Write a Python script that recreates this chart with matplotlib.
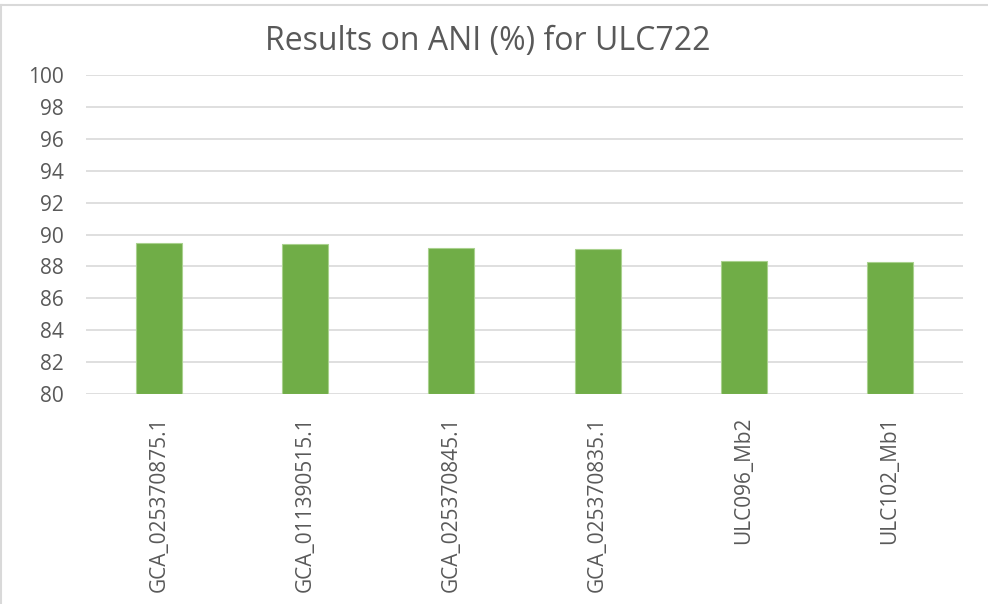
import matplotlib.pyplot as plt
from matplotlib.lines import Line2D

genomes = ["GCA_025370875.1", "GCA_011390515.1", "GCA_025370845.1",
           "GCA_025370835.1", "ULC096_Mb2", "ULC102_Mb1"]
ani = [89.48, 89.41, 89.16, 89.10, 88.36, 88.28]
yticks = list(range(80, 101, 2))

plt.rcParams["font.family"] = ["Open Sans", "DejaVu Sans"]
grey = "#595959"

fig = plt.figure(figsize=(9.88, 6.04), dpi=100)
ax = fig.add_axes([0.087, 0.3477, 0.8877, 0.5281])

x = range(len(genomes))
ax.bar(x, [v - 80 for v in ani], bottom=80, width=0.315,
       color="#70AD47", edgecolor="#A9D18E", linewidth=0.8, zorder=3)

ax.set_xlim(-0.5, len(genomes) - 0.5)
ax.set_ylim(80, 100)
ax.set_yticks(yticks)
ax.set_yticklabels([str(t) for t in yticks], fontsize=15, color=grey)
ax.set_xticks(list(x))
ax.set_xticklabels(genomes, rotation=90, fontsize=15, color=grey,
                   va="top", ha="center")
ax.tick_params(axis="both", length=0)
ax.tick_params(axis="x", pad=16)
ax.tick_params(axis="y", pad=16)
ax.grid(axis="y", color="#D9D9D9", linewidth=1.2, zorder=0)
for s in ax.spines.values():
    s.set_visible(False)

fig.text(0.494, 0.932, "Results on ANI (%) for ULC722", fontsize=23,
         color=grey, ha="center", va="center")

# chart frame (top and left edges visible)
fig.add_artist(Line2D([0, 1], [0.991, 0.991], color="#D9D9D9", lw=1.5))
fig.add_artist(Line2D([0.001, 0.001], [0, 0.991], color="#D9D9D9", lw=1.5))

fig.savefig("out.png", dpi=100)
